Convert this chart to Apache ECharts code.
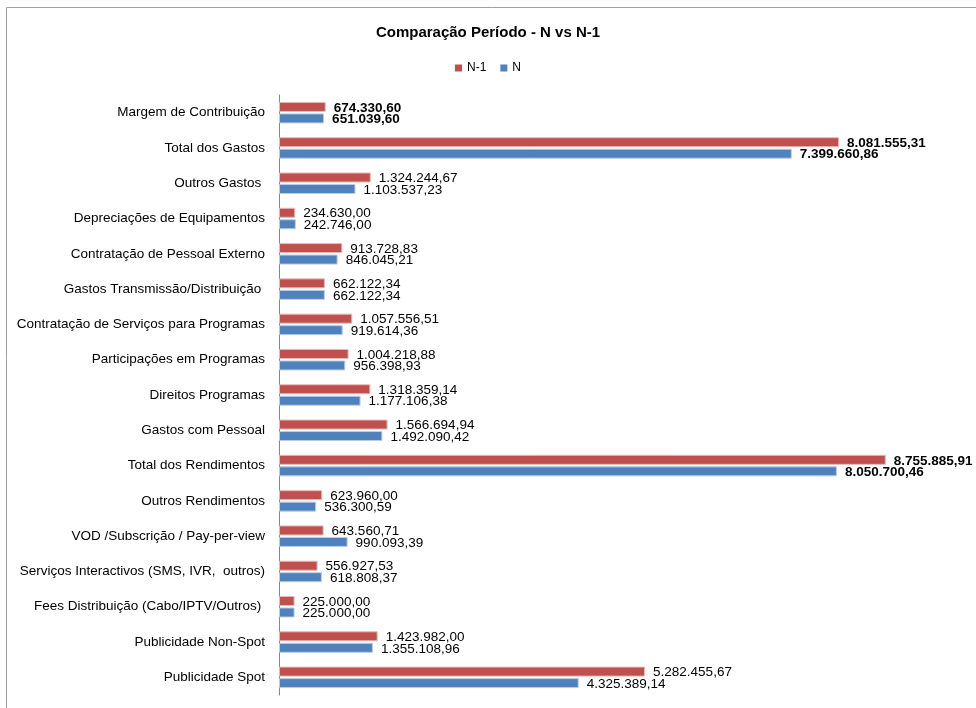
<!DOCTYPE html>
<html><head><meta charset="utf-8">
<script src="https://cdn.jsdelivr.net/npm/echarts@6/dist/echarts.min.js"></script>
<style>html,body{margin:0;padding:0;background:#fff}#c{width:976px;height:708px}</style>
</head><body><div id="c"></div>
<script>
var categories = [
  'Publicidade Spot',
  'Publicidade Non-Spot',
  'Fees Distribuição (Cabo/IPTV/Outros) ',
  'Serviços Interactivos (SMS, IVR,  outros)',
  'VOD /Subscrição / Pay-per-view',
  'Outros Rendimentos',
  'Total dos Rendimentos',
  'Gastos com Pessoal',
  'Direitos Programas',
  'Participações em Programas',
  'Contratação de Serviços para Programas',
  'Gastos Transmissão/Distribuição ',
  'Contratação de Pessoal Externo',
  'Depreciações de Equipamentos',
  'Outros Gastos ',
  'Total dos Gastos',
  'Margem de Contribuição'
];
var valuesN1 = [5282455.67, 1423982.00, 225000.00, 556927.53, 643560.71, 623960.00, 8755885.91, 1566694.94, 1318359.14, 1004218.88, 1057556.51, 662122.34, 913728.83, 234630.00, 1324244.67, 8081555.31, 674330.60];
var valuesN  = [4325389.14, 1355108.96, 225000.00, 618808.37, 990093.39, 536300.59, 8050700.46, 1492090.42, 1177106.38, 956398.93, 919614.36, 662122.34, 846045.21, 242746.00, 1103537.23, 7399660.86, 651039.60];
var boldCategories = ['Total dos Rendimentos', 'Total dos Gastos', 'Margem de Contribuição'];

function fmt(v) {
  var s = v.toFixed(2);
  var parts = s.split('.');
  var intPart = parts[0].replace(/\B(?=(\d{3})+(?!\d))/g, '.');
  return intPart + ',' + parts[1];
}
function toData(arr) {
  return arr.map(function (v, i) {
    var bold = boldCategories.indexOf(categories[i]) >= 0;
    return { value: v, label: { fontWeight: bold ? 'bold' : 'normal' } };
  });
}
var FONT = 'Liberation Sans';
var chart = echarts.init(document.getElementById('c'));
chart.setOption({
  animation: false,
  backgroundColor: '#fff',
  textStyle: { fontFamily: FONT },
  graphic: [{
    type: 'rect', silent: true, z: -1,
    shape: { x: 6.5, y: 7.5, width: 990, height: 720 },
    style: { fill: 'none', stroke: '#A0A0A0', lineWidth: 1 }
  }],
  title: {
    text: 'Comparação Período - N vs N-1',
    left: 'center', top: 20,
    textStyle: { fontFamily: FONT, fontSize: 15, fontWeight: 'bold', color: '#000' }
  },
  legend: {
    data: ['N-1', 'N'],
    top: 57, left: 'center',
    itemWidth: 7, itemHeight: 7, itemGap: 14,
    icon: 'rect',
    itemStyle: { borderWidth: 0 },
    textStyle: { fontFamily: FONT, fontSize: 12, color: '#000' }
  },
  grid: { left: 279, right: 4, top: 95, bottom: 13, containLabel: false },
  xAxis: {
    type: 'value', min: 0, max: 10000000, show: false,
    splitLine: { show: false }
  },
  yAxis: {
    type: 'category', data: categories,
    axisLine: { lineStyle: { color: '#868686' } },
    axisTick: { show: false },
    axisLabel: { fontFamily: FONT, fontSize: 13.5, color: '#000', margin: 14 }
  },
  series: [
    {
      name: 'N-1', type: 'bar', data: toData(valuesN1),
      barWidth: 10, barGap: '15%',
      itemStyle: { color: '#C0504D', borderColor: '#E6B9B8', borderWidth: 1 },
      label: { show: true, position: 'right', distance: 8, fontFamily: FONT, fontSize: 13.5, color: '#000',
        offset: [0, 1], formatter: function (p) { return fmt(p.value); } }
    },
    {
      name: 'N', type: 'bar', data: toData(valuesN),
      barWidth: 10, barGap: '15%',
      itemStyle: { color: '#4F81BD', borderColor: '#B9CDE5', borderWidth: 1 },
      label: { show: true, position: 'right', distance: 8, fontFamily: FONT, fontSize: 13.5, color: '#000',
        offset: [0, 1], formatter: function (p) { return fmt(p.value); } }
    }
  ]
});
</script></body></html>
